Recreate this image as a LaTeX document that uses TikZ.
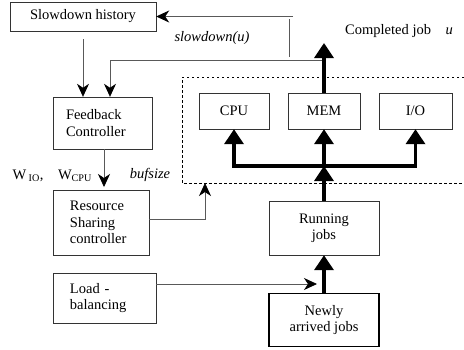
\documentclass[tikz,border=0pt]{standalone}
\usepackage{fontspec}
\setmainfont{Liberation Serif}
\usetikzlibrary{arrows.meta}

\begin{document}
\begin{tikzpicture}[x=1pt,y=-1pt,
    box/.style={draw=black!80,rectangle,inner sep=0pt,font=\fontsize{14.5}{16.5}\selectfont},
    leftbox/.style={box,align=left,anchor=center},
    thinline/.style={draw=black!65,line width=0.8pt},
    thickline/.style={draw=black,line width=3.5pt},
    poolline/.style={draw=black,line width=0.7pt,dash pattern=on 2.5pt off 2.5pt}]
    \useasboundingbox (0,0) rectangle (464,349);

    \begin{scope}[every node/.style={box}]
      \node[minimum width=146pt,minimum height=29pt] (hist) at (83,16.5) {Slowdown history};
      \node[leftbox,inner xsep=13pt,text width=73pt,minimum height=52pt] (fb) at (102.5,123) {Feedback\\Controller};
      \node[leftbox,inner xsep=17pt,text width=62pt,minimum height=65pt] (rs) at (101,222.5) {Resource\\Sharing\\controller};
      \node[leftbox,inner xsep=17pt,text width=69pt,minimum height=50pt] (lb) at (104.5,298) {Load -\\balancing};
      \node[minimum width=70pt,minimum height=36pt] (cpu) at (234,111) {CPU};
      \node[minimum width=72pt,minimum height=36pt] (mem) at (324,111) {MEM};
      \node[minimum width=73pt,minimum height=36pt] (io) at (415.5,111) {I/O};
      \node[align=center,minimum width=110pt,minimum height=54pt] (run) at (324,228) {Running\\jobs};
      \node[align=center,line width=1.6pt,draw=black,minimum width=110pt,minimum height=53pt] (new) at (324,320) {Newly\\arrived jobs};
    \end{scope}

    \begin{scope}[every node/.style={font=\fontsize{14.5}{16.5}\selectfont}]
      \node (slow) at (212,38) {\textit{slowdown(u)}};
      \node (done) at (399,31) {Completed job\quad\textit{u}};
      \node (wio) at (28,176) {W\,\textsubscript{IO},};
      \node (wcpu) at (75,176) {W\textsubscript{CPU}};
      \node (buf) at (150,175) {\textit{bufsize}};
    \end{scope}

    % dotted pool round the resources
    \coordinate (pnw) at (182,77);
    \coordinate (psw) at (182,183);
    \draw[poolline] (464,77) -- (pnw) -- (psw) -- (464,183);

    \coordinate (back) at (293,16.5);
    \coordinate (tap) at (324,60);
    \coordinate (junc) at (324,166);
    \coordinate (poolin) at (205,183);
    \coordinate (newin) at (317,284);
    \coordinate (out) at (324,43);

    \begin{scope}[>={Stealth[black,length=13pt,width=12pt,inset=4pt]},
        every path/.style={thinline}]
      \draw[->] (back) -- (hist.east);
      \draw (289,19) -- (289,57);
      \draw[->] (tap) -| ([xshift=7.5pt]fb.north);
      \draw[->,shorten <=8pt] (hist.south) -- (hist.south |- fb.north);
      \draw[->,shorten >=3pt] (104,149) -- (104,190);
      \draw[->] ([yshift=3.5pt]rs.east) -| (poolin);
      \draw[->] ([yshift=14pt]lb.east) -- (newin);
    \end{scope}

    \begin{scope}[>={Triangle[black,length=15pt,width=19pt]},
        every path/.style={thickline}]
      \draw[->] (mem.north) -- (out);
      \draw[->] (new.north) -- (run.south);
      \draw[->] (run.north) -- (junc);
      \draw[->] (junc) -| (cpu.south);
      \draw[->] (junc) -| (io.south);
      \draw[->] (junc) -- (mem.south);
    \end{scope}
\end{tikzpicture}
\end{document}
